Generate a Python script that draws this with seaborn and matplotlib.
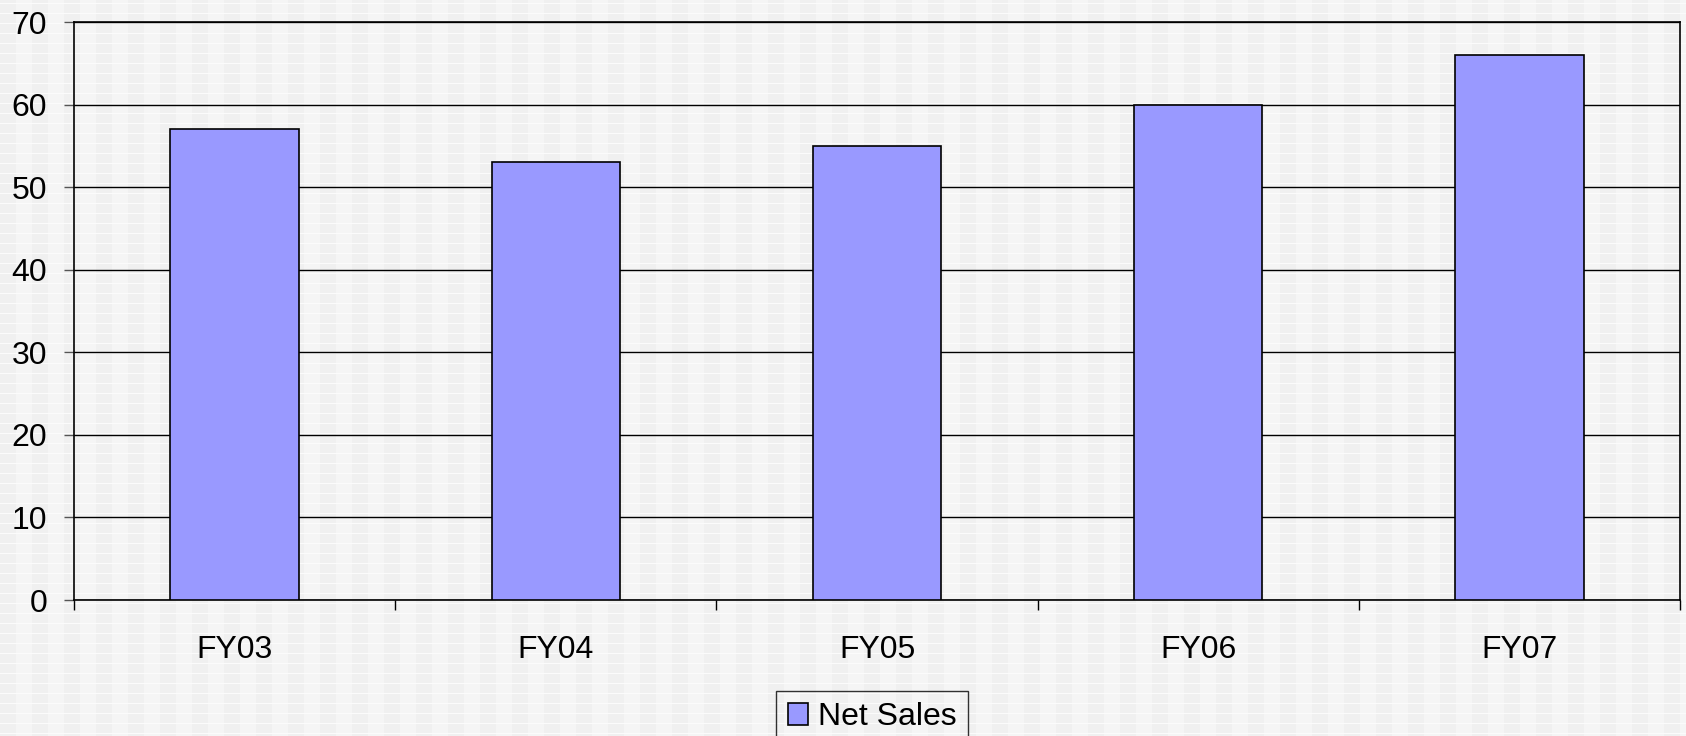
import numpy as np
import pandas as pd
import matplotlib
matplotlib.use("Agg")
import matplotlib.pyplot as plt
import seaborn as sns
from matplotlib.ticker import MultipleLocator, FixedLocator

# Dados do gráfico
anos = ["FY03", "FY04", "FY05", "FY06", "FY07"]
vendas = [57, 53, 55, 60, 66]
serie = "Net Sales"

sns.set_style("white")
plt.rcParams["font.family"] = ["Liberation Sans", "DejaVu Sans"]
plt.rcParams["text.color"] = "black"
plt.rcParams["xtick.labelcolor"] = "black"
plt.rcParams["ytick.labelcolor"] = "black"

df = pd.DataFrame({"ano": anos, "valor": vendas})

fig = plt.figure(figsize=(16.86, 7.36), dpi=100, facecolor="#f2f2f2")

# textura de fundo (xadrez claro)
h, w = 736, 1686
yy, xx = np.mgrid[0:h, 0:w]
fundo = np.where((xx // 16) % 2 == 0, 0.945, 0.962)
fundo = np.where(yy % 10 == 3, 0.985, fundo)
fig.figimage(np.dstack([fundo] * 3), xo=0, yo=0, zorder=-10)

ax = fig.add_axes([74 / 1686, 1 - 600 / 736, (1680 - 74) / 1686, (600 - 22) / 736])
ax.patch.set_alpha(0)

sns.barplot(data=df, x="ano", y="valor", ax=ax, color="#9999ff", saturation=1,
            width=0.4, edgecolor="black", linewidth=1.2, label=serie, zorder=3)

ax.set_ylim(0, 70)
ax.set_xlim(-0.5, len(anos) - 0.5)
ax.yaxis.set_major_locator(MultipleLocator(10))
ax.grid(axis="y", color="black", linewidth=1, zorder=1)
ax.set_axisbelow(True)
for s in ax.spines.values():
    s.set_color("black")
    s.set_linewidth(1.2)

ax.set_xlabel("")
ax.set_ylabel("")
ax.tick_params(axis="y", which="major", direction="out", length=7.2, width=1,
               color="#555555", pad=12, labelsize=23, left=True)
ax.tick_params(axis="x", which="major", length=0, pad=25, labelsize=23)
ax.xaxis.set_minor_locator(FixedLocator(np.arange(-0.5, len(anos), 1.0)))
ax.tick_params(axis="x", which="minor", direction="out", length=7.2, width=1,
               color="black", bottom=True)

leg = ax.legend(loc="upper center", bbox_to_anchor=(872 / 1686, 1 - 691 / 736),
                bbox_transform=fig.transFigure, frameon=True, fancybox=False,
                fontsize=23, handlelength=0.65, handleheight=0.65,
                handletextpad=0.3, borderpad=0.35, borderaxespad=0)
leg.get_frame().set_facecolor("none")
leg.get_frame().set_edgecolor("black")
leg.get_frame().set_linewidth(1)

fig.savefig("out.png", dpi=100, facecolor=fig.get_facecolor())
